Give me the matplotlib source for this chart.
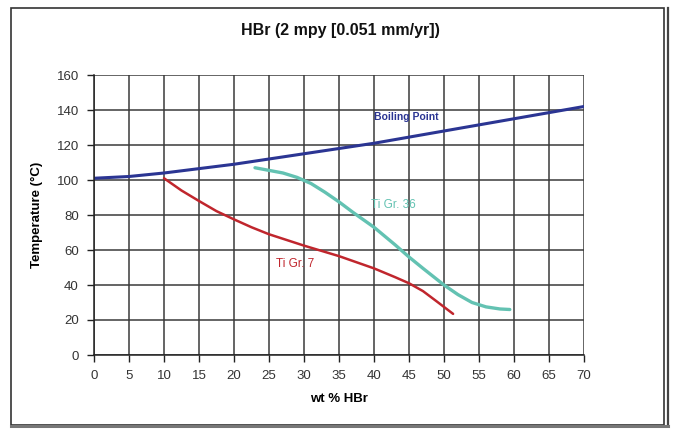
import matplotlib
matplotlib.use("Agg")
import matplotlib.pyplot as plt
from matplotlib.patches import Rectangle
from matplotlib.lines import Line2D

plt.rcParams['font.family'] = ['Liberation Sans', 'DejaVu Sans']

# Boiling point of HBr solutions
bp_wt = [0, 5, 10, 15, 20, 25, 30, 35, 40, 45, 50, 55, 60, 65, 70]
bp_temp = [101, 102, 104, 106.5, 109, 112, 115, 118, 121, 124.5, 128, 131.5, 135, 138.5, 142]

# Ti Grade 7 iso-corrosion curve
gr7_wt = [10, 12.5, 15, 17.5, 20, 22.5, 25, 30, 35, 40, 43, 45, 47, 49, 51.3]
gr7_temp = [101, 94, 88, 82.2, 77.5, 73, 69, 62.5, 56.5, 49.5, 44.5, 41, 36.5, 30.5, 23.5]

# Ti Grade 36 iso-corrosion curve
gr36_wt = [23, 25, 27, 29, 31, 33, 35, 37, 40, 43, 45, 47, 50, 52, 54, 56, 58, 59.4]
gr36_temp = [107, 105.5, 104, 101.5, 98, 93, 87.5, 81.5, 73, 63, 56, 49.5, 40, 34.5, 30, 27.5, 26.3, 26]

x_ticks = list(range(0, 71, 5))
y_ticks = list(range(0, 161, 20))

fig = plt.figure(figsize=(6.78, 4.40), dpi=100)
fig.patch.set_facecolor('white')

# outer chart frame
fig.add_artist(Rectangle((11 / 678, 1 - 425 / 440), (664 - 11) / 678, (425 - 8) / 440,
                         transform=fig.transFigure, fill=False, edgecolor='#333333', lw=1.2))
fig.add_artist(Line2D([668 / 678, 668 / 678], [1 - 425 / 440, 1 - 8 / 440],
                      transform=fig.transFigure, color='#444444', lw=1.6))
fig.add_artist(Line2D([11 / 678, 668 / 678], [1 - 426 / 440, 1 - 426 / 440],
                      transform=fig.transFigure, color='#777777', lw=2.2))

ax = fig.add_axes([94 / 678, 1 - 355 / 440, (584 - 94) / 678, (355 - 75) / 440])
ax.set_xlim(0, 70)
ax.set_ylim(0, 160)
ax.set_xticks(x_ticks)
ax.set_yticks(y_ticks)
ax.grid(True, color='#3a3a3a', lw=1.1)
ax.set_axisbelow(True)
for s in ['top', 'right']:
    ax.spines[s].set_visible(False)
for s in ['left', 'bottom']:
    ax.spines[s].set_color('#222222')
    ax.spines[s].set_linewidth(1.1)
ax.tick_params(direction='out', length=5, width=1, color='#222222',
               labelsize=9.5, labelcolor='#333333', pad=6)

ax.plot(bp_wt, bp_temp, color='#2b3593', lw=2.2, solid_capstyle='round')
ax.plot(gr7_wt, gr7_temp, color='#c0262d', lw=1.8, solid_capstyle='round')
ax.plot(gr36_wt, gr36_temp, color='#63c2b2', lw=2.4, solid_capstyle='round')

ax.text(44.6, 136, 'Boiling Point', color='#2b3593', fontsize=7.5, fontweight='bold',
        ha='center', va='center')
ax.text(42.8, 86, 'Ti Gr. 36', color='#63c2b2', fontsize=8.5,
        ha='center', va='center')
ax.text(28.7, 52, 'Ti Gr. 7', color='#c0262d', fontsize=8.5,
        ha='center', va='center')

fig.text(340 / 678, 1 - 30 / 440, 'HBr (2 mpy [0.051 mm/yr])', fontsize=11.5,
         fontweight='bold', ha='center', va='center', color='#111111')
ax.set_xlabel('wt % HBr', fontsize=9.5, fontweight='bold', labelpad=8)
ax.set_ylabel('Temperature (°C)', fontsize=9.5, fontweight='bold', labelpad=10)

fig.savefig('out.png', dpi=100)
